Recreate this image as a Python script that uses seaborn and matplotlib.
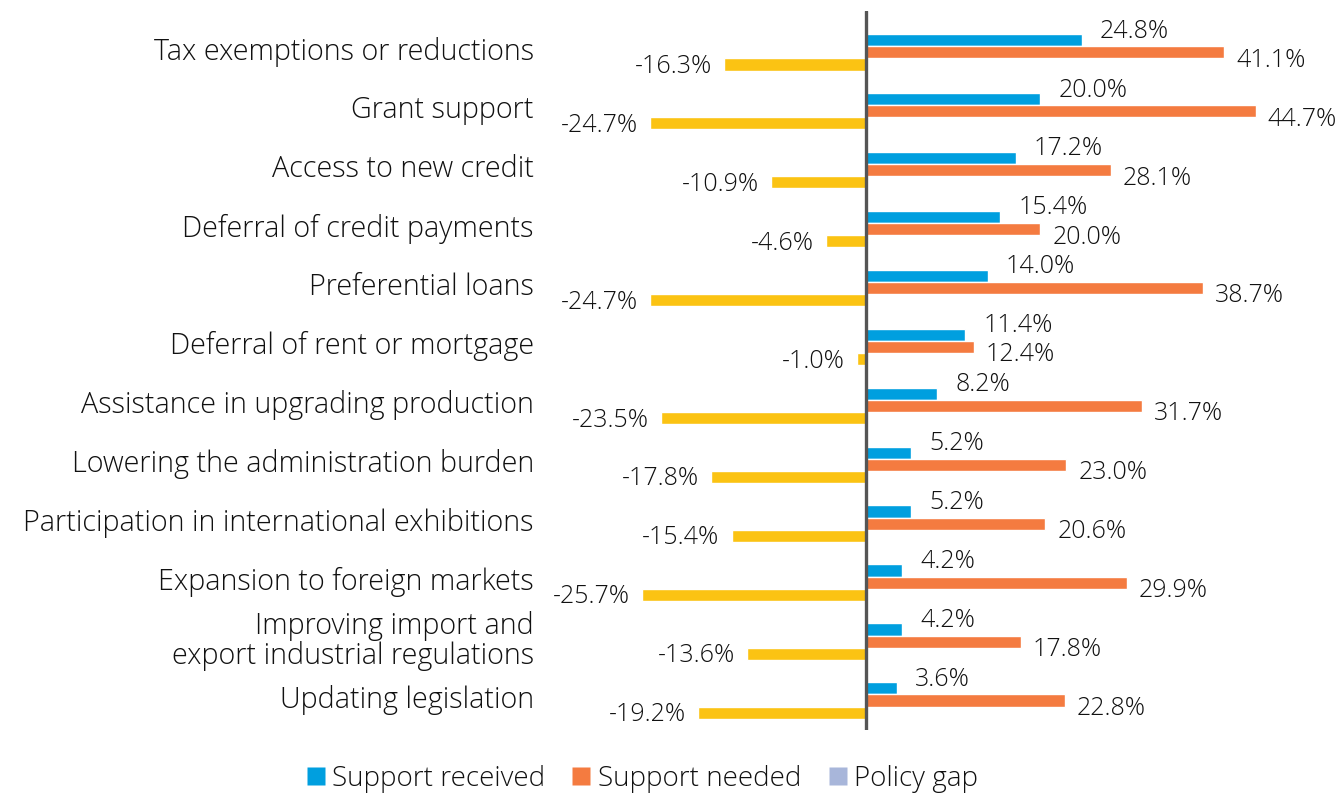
import pandas as pd
import matplotlib
matplotlib.use("Agg")
import matplotlib.pyplot as plt
import matplotlib.transforms as mtransforms
import seaborn as sns
from matplotlib.lines import Line2D

# dados
categorias = [
    "Tax exemptions or reductions",
    "Grant support",
    "Access to new credit",
    "Deferral of credit payments",
    "Preferential loans",
    "Deferral of rent or mortgage",
    "Assistance in upgrading production",
    "Lowering the administration burden",
    "Participation in international exhibitions",
    "Expansion to foreign markets",
    "Improving import and\nexport industrial regulations",
    "Updating legislation",
]
recebido = [24.8, 20.0, 17.2, 15.4, 14.0, 11.4, 8.2, 5.2, 5.2, 4.2, 4.2, 3.6]
necessario = [41.1, 44.7, 28.1, 20.0, 38.7, 12.4, 31.7, 23.0, 20.6, 29.9, 17.8, 22.8]
lacuna = [-16.3, -24.7, -10.9, -4.6, -24.7, -1.0, -23.5, -17.8, -15.4, -25.7, -13.6, -19.2]

series = ["Support received", "Support needed", "Policy gap"]
cores = {"Support received": "#009FDF", "Support needed": "#F47B40", "Policy gap": "#FBC313"}
cor_legenda_gap = "#A8B6DA"

df = pd.DataFrame({
    "categoria": categorias * 3,
    "serie": [series[0]] * 12 + [series[1]] * 12 + [series[2]] * 12,
    "valor": recebido + necessario + lacuna,
})

sns.set_theme(style="white")
plt.rcParams["font.family"] = ["Open Sans", "DejaVu Sans"]

FS_CAT = 20.7
FS_NUM = 18
FS_LEG = 20
COR_TXT = "#111111"

fig = plt.figure(figsize=(13.38, 7.95), dpi=100)
ax = fig.add_axes([545 / 1338, 1 - 730 / 795, (1300 - 545) / 1338, (730 - 11) / 795])

sns.barplot(data=df, y="categoria", x="valor", hue="serie", hue_order=series,
            palette=cores, orient="h", width=0.62, dodge=True, ax=ax,
            legend=False, saturation=1)

ax.set_xlim(-36.8, 49.8)
ax.set_ylim(11.5, -0.7)
ax.axvline(0, color="#555555", lw=2.4, zorder=5)

for s in ax.spines.values():
    s.set_visible(False)
ax.set_xticks([])
ax.set_xlabel("")
ax.set_ylabel("")
ax.tick_params(axis="y", length=0, pad=8)
sobe = mtransforms.ScaledTranslation(0, 4 / 100, fig.dpi_scale_trans)
for lab in ax.get_yticklabels():
    lab.set_fontsize(FS_CAT)
    lab.set_fontweight(300)
    lab.set_color(COR_TXT)
    lab.set_linespacing(1.0)
    lab.set_transform(lab.get_transform() + sobe)

# rótulos das barras
desloc = [(18, 9, "left"), (12, -8, "left"), (-12, -2, "right")]
for cont, (dx, dy, ha) in zip(ax.containers, desloc):
    for barra in cont:
        v = barra.get_width()
        yc = barra.get_y() + barra.get_height() / 2
        ax.annotate(f"{v:.1f}%", xy=(v, yc), xytext=(dx, dy), textcoords="offset pixels",
                    ha=ha, va="center", fontsize=FS_NUM, fontweight=300, color=COR_TXT)

handles = [
    Line2D([0], [0], marker="s", color="none", markerfacecolor=cores[series[0]], markeredgecolor="none", markersize=13),
    Line2D([0], [0], marker="s", color="none", markerfacecolor=cores[series[1]], markeredgecolor="none", markersize=13),
    Line2D([0], [0], marker="s", color="none", markerfacecolor=cor_legenda_gap, markeredgecolor="none", markersize=13),
]
leg = fig.legend(handles, series, loc="center", bbox_to_anchor=(640 / 1338, 1 - 779 / 795), ncol=3,
                 frameon=False, fontsize=FS_LEG, handletextpad=0.1, columnspacing=0.8, handlelength=1.0)
for t in leg.get_texts():
    t.set_fontweight(300)
    t.set_color(COR_TXT)

fig.savefig("out.png", dpi=100)
